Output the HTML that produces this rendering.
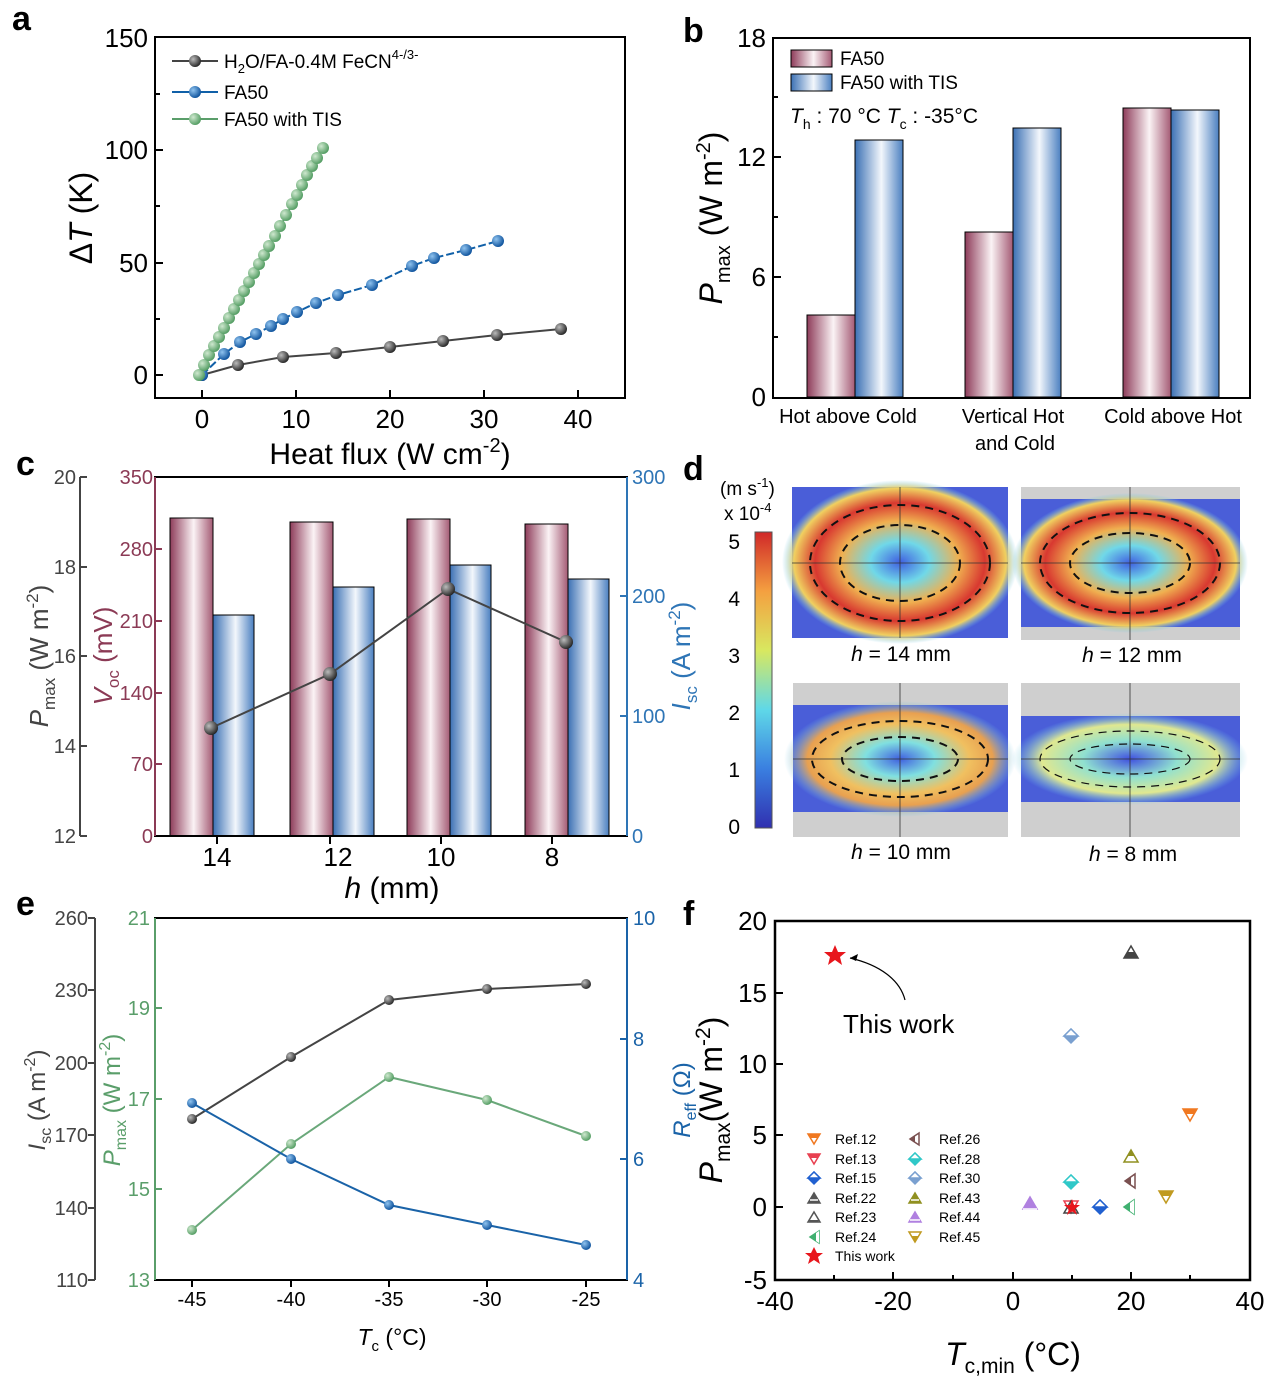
<!DOCTYPE html><html><head><meta charset="utf-8"><style>body{margin:0;background:#fff}svg{display:block;font-family:"Liberation Sans",Arial,sans-serif}</style></head><body>
<svg width="1281" height="1388" viewBox="0 0 1281 1388" xmlns="http://www.w3.org/2000/svg">
<defs>
<linearGradient id="pk" x1="0" x2="1"><stop offset="0" stop-color="#8e3c5a"/><stop offset=".55" stop-color="#fbf3f5"/><stop offset="1" stop-color="#a45a74"/></linearGradient>
<linearGradient id="bl" x1="0" x2="1"><stop offset="0" stop-color="#3b70b4"/><stop offset=".55" stop-color="#f3f7fc"/><stop offset="1" stop-color="#4a7fc0"/></linearGradient>
<radialGradient id="sb" cx=".35" cy=".35" r=".7"><stop offset="0" stop-color="#bbb"/><stop offset="1" stop-color="#222"/></radialGradient>
<radialGradient id="sbl" cx=".35" cy=".35" r=".7"><stop offset="0" stop-color="#8fc3ef"/><stop offset="1" stop-color="#0a4f9a"/></radialGradient>
<radialGradient id="sg" cx=".35" cy=".35" r=".7"><stop offset="0" stop-color="#cfe8cf"/><stop offset="1" stop-color="#4e9a5e"/></radialGradient>
<linearGradient id="cb" x1="0" y1="1" x2="0" y2="0"><stop offset="0" stop-color="#3030b0"/><stop offset=".2" stop-color="#3a7fe0"/><stop offset=".4" stop-color="#5fd8e8"/><stop offset=".6" stop-color="#d8e860"/><stop offset=".8" stop-color="#f4a040"/><stop offset="1" stop-color="#d02828"/></linearGradient>
<radialGradient id="hm" cx=".5" cy=".5" r=".5"><stop offset="0" stop-color="#4060e0"/><stop offset=".25" stop-color="#70d8e8"/><stop offset=".5" stop-color="#f0b050"/><stop offset=".72" stop-color="#d83830"/><stop offset=".9" stop-color="#f0d060"/><stop offset="1" stop-color="#70c8f0" stop-opacity="0"/></radialGradient>
<radialGradient id="hm2" cx=".5" cy=".5" r=".5"><stop offset="0" stop-color="#4060e0"/><stop offset=".3" stop-color="#80e0e0"/><stop offset=".6" stop-color="#f0c060"/><stop offset=".8" stop-color="#e8a050"/><stop offset="1" stop-color="#70c8f0" stop-opacity="0"/></radialGradient>
<radialGradient id="hm3" cx=".5" cy=".5" r=".5"><stop offset="0" stop-color="#4050e0"/><stop offset=".4" stop-color="#90e0d0"/><stop offset=".75" stop-color="#e0e890"/><stop offset="1" stop-color="#70c8f0" stop-opacity="0"/></radialGradient>
</defs>
<g font-size="26" fill="#000">
<!-- Panel labels -->
<text x="12" y="30" font-size="34" font-weight="bold">a</text>
<text x="683" y="42" font-size="34" font-weight="bold">b</text>
<text x="16" y="475" font-size="34" font-weight="bold">c</text>
<text x="683" y="480" font-size="34" font-weight="bold">d</text>
<text x="16" y="915" font-size="34" font-weight="bold">e</text>
<text x="683" y="925" font-size="34" font-weight="bold">f</text>

<!-- ===== Panel a ===== -->
<rect x="155" y="37" width="470" height="361" fill="none" stroke="#000" stroke-width="2"/>
<g stroke="#000" stroke-width="2">
<line x1="202" y1="398" x2="202" y2="390"/><line x1="296" y1="398" x2="296" y2="390"/><line x1="390" y1="398" x2="390" y2="390"/><line x1="484" y1="398" x2="484" y2="390"/><line x1="578" y1="398" x2="578" y2="390"/>
<line x1="155" y1="375" x2="163" y2="375"/><line x1="155" y1="263" x2="163" y2="263"/><line x1="155" y1="150" x2="163" y2="150"/>
<line x1="155" y1="319" x2="160" y2="319"/><line x1="155" y1="206" x2="160" y2="206"/><line x1="155" y1="94" x2="160" y2="94"/>
</g>
<g text-anchor="middle"><text x="202" y="428">0</text><text x="296" y="428">10</text><text x="390" y="428">20</text><text x="484" y="428">30</text><text x="578" y="428">40</text></g>
<g text-anchor="end"><text x="148" y="384">0</text><text x="148" y="272">50</text><text x="148" y="159">100</text><text x="148" y="47">150</text></g>
<text x="390" y="464" text-anchor="middle" font-size="30">Heat flux (W cm<tspan dy="-12" font-size="20">-2</tspan><tspan dy="12">)</tspan></text>
<text transform="translate(92,218) rotate(-90)" text-anchor="middle" font-size="32">Δ<tspan font-style="italic">T</tspan> (K)</text>
<polyline fill="none" stroke="#444" stroke-width="2" points="202,375 238,365 283,357 336,353 390,347 443,341 497,335 561,329"/>
<g fill="url(#sb)"><circle cx="202" cy="375" r="6"/><circle cx="238" cy="365" r="6"/><circle cx="283" cy="357" r="6"/><circle cx="336" cy="353" r="6"/><circle cx="390" cy="347" r="6"/><circle cx="443" cy="341" r="6"/><circle cx="497" cy="335" r="6"/><circle cx="561" cy="329" r="6"/></g>
<polyline fill="none" stroke="#1060a8" stroke-width="2" stroke-dasharray="8,3" points="202,375 224,354 240,342 256,334 271,326 283,319 297,312 316,303 338,295 372,285 412,266 434,258 466,250 498,241"/>
<g fill="url(#sbl)"><circle cx="202" cy="375" r="6"/><circle cx="224" cy="354" r="6"/><circle cx="240" cy="342" r="6"/><circle cx="256" cy="334" r="6"/><circle cx="271" cy="326" r="6"/><circle cx="283" cy="319" r="6"/><circle cx="297" cy="312" r="6"/><circle cx="316" cy="303" r="6"/><circle cx="338" cy="295" r="6"/><circle cx="372" cy="285" r="6"/><circle cx="412" cy="266" r="6"/><circle cx="434" cy="258" r="6"/><circle cx="466" cy="250" r="6"/><circle cx="498" cy="241" r="6"/></g>
<polyline fill="none" stroke="#5a9e6a" stroke-width="2" points="199,375 323,148"/>
<g fill="url(#sg)">
<circle cx="199" cy="375" r="6"/><circle cx="204" cy="365" r="6"/><circle cx="209" cy="355" r="6"/><circle cx="214" cy="346" r="6"/><circle cx="219" cy="337" r="6"/><circle cx="224" cy="328" r="6"/><circle cx="229" cy="318" r="6"/><circle cx="234" cy="309" r="6"/><circle cx="239" cy="300" r="6"/><circle cx="244" cy="291" r="6"/><circle cx="249" cy="282" r="6"/><circle cx="254" cy="273" r="6"/><circle cx="259" cy="264" r="6"/><circle cx="264" cy="255" r="6"/><circle cx="269" cy="246" r="6"/><circle cx="275" cy="236" r="6"/><circle cx="280" cy="226" r="6"/><circle cx="286" cy="215" r="6"/><circle cx="292" cy="204" r="6"/><circle cx="297" cy="195" r="6"/><circle cx="302" cy="185" r="6"/><circle cx="307" cy="175" r="6"/><circle cx="312" cy="166" r="6"/><circle cx="317" cy="158" r="6"/><circle cx="323" cy="148" r="6"/></g>
<g font-size="19">
<line x1="172" y1="61" x2="218" y2="61" stroke="#444" stroke-width="2"/><circle cx="195" cy="61" r="6" fill="url(#sb)"/>
<text x="224" y="68">H<tspan dy="5" font-size="13">2</tspan><tspan dy="-5">O/FA-0.4M FeCN</tspan><tspan dy="-9" font-size="13">4-/3-</tspan></text>
<line x1="172" y1="92" x2="218" y2="92" stroke="#1060a8" stroke-width="2"/><circle cx="195" cy="92" r="6" fill="url(#sbl)"/><text x="224" y="99">FA50</text>
<line x1="172" y1="119" x2="218" y2="119" stroke="#5a9e6a" stroke-width="2"/><circle cx="195" cy="119" r="6" fill="url(#sg)"/><text x="224" y="126">FA50 with TIS</text>
</g>

<!-- ===== Panel b ===== -->
<g stroke="#000" stroke-width="1">
<rect x="807" y="315" width="48" height="82" fill="url(#pk)"/><rect x="855" y="140" width="48" height="257" fill="url(#bl)"/>
<rect x="965" y="232" width="48" height="165" fill="url(#pk)"/><rect x="1013" y="128" width="48" height="269" fill="url(#bl)"/>
<rect x="1123" y="108" width="48" height="289" fill="url(#pk)"/><rect x="1171" y="110" width="48" height="287" fill="url(#bl)"/>
</g>
<rect x="773" y="38" width="477" height="360" fill="none" stroke="#000" stroke-width="2"/>
<g stroke="#000" stroke-width="2"><line x1="773" y1="277" x2="781" y2="277"/><line x1="773" y1="157" x2="781" y2="157"/><line x1="773" y1="217" x2="778" y2="217"/><line x1="773" y1="337" x2="778" y2="337"/><line x1="773" y1="97" x2="778" y2="97"/></g>
<g text-anchor="end"><text x="766" y="406">0</text><text x="766" y="286">6</text><text x="766" y="166">12</text><text x="766" y="47">18</text></g>
<text transform="translate(722,218) rotate(-90)" text-anchor="middle" font-size="32"><tspan font-style="italic">P</tspan><tspan dy="8" font-size="20">max</tspan><tspan dy="-8"> (W m</tspan><tspan dy="-12" font-size="20">-2</tspan><tspan dy="12">)</tspan></text>
<g text-anchor="middle" font-size="20"><text x="848" y="423">Hot above Cold</text><text x="1013" y="423">Vertical Hot</text><text x="1015" y="450">and Cold</text><text x="1173" y="423">Cold above Hot</text></g>
<g font-size="19"><rect x="791" y="50" width="41" height="17" fill="url(#pk)" stroke="#000"/><text x="840" y="65">FA50</text>
<rect x="791" y="74" width="41" height="17" fill="url(#bl)" stroke="#000"/><text x="840" y="89">FA50 with TIS</text>
<text x="790" y="123" font-size="21"><tspan font-style="italic">T</tspan><tspan dy="6" font-size="14">h</tspan><tspan dy="-6"> : 70 °C  </tspan><tspan font-style="italic">T</tspan><tspan dy="6" font-size="14">c</tspan><tspan dy="-6"> : -35°C</tspan></text></g>

<!-- ===== Panel c ===== -->
<g stroke="#000" stroke-width="1">
<rect x="170" y="518" width="43" height="318" fill="url(#pk)"/><rect x="213" y="615" width="41" height="221" fill="url(#bl)"/>
<rect x="290" y="522" width="43" height="314" fill="url(#pk)"/><rect x="333" y="587" width="41" height="249" fill="url(#bl)"/>
<rect x="407" y="519" width="43" height="317" fill="url(#pk)"/><rect x="450" y="565" width="41" height="271" fill="url(#bl)"/>
<rect x="525" y="524" width="43" height="312" fill="url(#pk)"/><rect x="568" y="579" width="41" height="257" fill="url(#bl)"/>
</g>
<rect x="155" y="477" width="472" height="359" fill="none" stroke="#000" stroke-width="2"/>
<line x1="155" y1="477" x2="155" y2="836" stroke="#8b3a55" stroke-width="2"/>
<line x1="627" y1="477" x2="627" y2="836" stroke="#2e75b6" stroke-width="2"/>
<line x1="80" y1="477" x2="80" y2="836" stroke="#444" stroke-width="2"/>
<polyline fill="none" stroke="#444" stroke-width="2" points="211,728 330,674 448,589 566,642"/>
<g fill="url(#sb)"><circle cx="211" cy="728" r="7"/><circle cx="330" cy="674" r="7"/><circle cx="448" cy="589" r="7"/><circle cx="566" cy="642" r="7"/></g>
<g stroke="#444" stroke-width="2"><line x1="80" y1="477" x2="87" y2="477"/><line x1="80" y1="567" x2="87" y2="567"/><line x1="80" y1="656" x2="87" y2="656"/><line x1="80" y1="746" x2="87" y2="746"/><line x1="80" y1="836" x2="87" y2="836"/></g>
<g fill="#444" text-anchor="end" font-size="20"><text x="76" y="484">20</text><text x="76" y="574">18</text><text x="76" y="663">16</text><text x="76" y="753">14</text><text x="76" y="843">12</text></g>
<g stroke="#8b3a55" stroke-width="2"><line x1="155" y1="549" x2="162" y2="549"/><line x1="155" y1="621" x2="162" y2="621"/><line x1="155" y1="693" x2="162" y2="693"/><line x1="155" y1="764" x2="162" y2="764"/></g>
<g fill="#8b3a55" text-anchor="end" font-size="20"><text x="153" y="484">350</text><text x="153" y="556">280</text><text x="153" y="628">210</text><text x="153" y="700">140</text><text x="153" y="771">70</text><text x="153" y="843">0</text></g>
<g stroke="#2e75b6" stroke-width="2"><line x1="627" y1="596" x2="620" y2="596"/><line x1="627" y1="716" x2="620" y2="716"/></g>
<g fill="#2e75b6" font-size="20"><text x="632" y="484">300</text><text x="632" y="603">200</text><text x="632" y="723">100</text><text x="632" y="843">0</text></g>
<g stroke="#000" stroke-width="2"><line x1="217" y1="836" x2="217" y2="844"/><line x1="330" y1="836" x2="330" y2="844"/><line x1="441" y1="836" x2="441" y2="844"/><line x1="552" y1="836" x2="552" y2="844"/></g>
<g text-anchor="middle"><text x="217" y="866">14</text><text x="338" y="866">12</text><text x="441" y="866">10</text><text x="552" y="866">8</text></g>
<text x="392" y="898" text-anchor="middle" font-size="30"><tspan font-style="italic">h</tspan> (mm)</text>
<text transform="translate(48,656) rotate(-90)" text-anchor="middle" font-size="26" fill="#444"><tspan font-style="italic">P</tspan><tspan dy="7" font-size="17">max</tspan><tspan dy="-7"> (W m</tspan><tspan dy="-10" font-size="17">-2</tspan><tspan dy="10">)</tspan></text>
<text transform="translate(112,656) rotate(-90)" text-anchor="middle" font-size="26" fill="#8b3a55"><tspan font-style="italic">V</tspan><tspan dy="7" font-size="17">oc</tspan><tspan dy="-7"> (mV)</tspan></text>
<text transform="translate(690,656) rotate(-90)" text-anchor="middle" font-size="26" fill="#2e75b6"><tspan font-style="italic">I</tspan><tspan dy="7" font-size="17">sc</tspan><tspan dy="-7"> (A m</tspan><tspan dy="-10" font-size="17">-2</tspan><tspan dy="10">)</tspan></text>

<!-- ===== Panel d ===== -->
<text x="720" y="495" font-size="19">(m s<tspan dy="-8" font-size="13">-1</tspan><tspan dy="8">)</tspan></text>
<text x="724" y="520" font-size="19">x 10<tspan dy="-8" font-size="13">-4</tspan></text>
<rect x="755" y="532" width="17" height="296" fill="url(#cb)" stroke="#555"/>
<g font-size="21" text-anchor="end"><text x="740" y="549">5</text><text x="740" y="606">4</text><text x="740" y="663">3</text><text x="740" y="720">2</text><text x="740" y="777">1</text><text x="740" y="834">0</text></g>
<!-- tl -->
<rect x="792" y="487" width="216" height="151" fill="#4a5ed8"/>
<ellipse cx="900" cy="562" rx="118" ry="82" fill="url(#hm)"/>
<!-- tr -->
<rect x="1021" y="487" width="219" height="153" fill="#cfcfcf"/><rect x="1021" y="499" width="219" height="128" fill="#4a5ed8"/>
<ellipse cx="1130" cy="563" rx="118" ry="70" fill="url(#hm)"/>
<!-- bl -->
<rect x="793" y="683" width="215" height="154" fill="#cfcfcf"/><rect x="793" y="705" width="215" height="107" fill="#4a5ed8"/>
<ellipse cx="900" cy="759" rx="116" ry="58" fill="url(#hm2)"/>
<!-- br -->
<rect x="1021" y="683" width="219" height="154" fill="#cfcfcf"/><rect x="1021" y="716" width="219" height="86" fill="#4a5ed8"/>
<ellipse cx="1130" cy="759" rx="118" ry="46" fill="url(#hm3)"/>
<g stroke="#333" stroke-width="0.8"><line x1="900" y1="487" x2="900" y2="638"/><line x1="792" y1="563" x2="1008" y2="563"/><line x1="1130" y1="487" x2="1130" y2="640"/><line x1="1021" y1="563" x2="1240" y2="563"/><line x1="900" y1="683" x2="900" y2="837"/><line x1="793" y1="759" x2="1008" y2="759"/><line x1="1130" y1="683" x2="1130" y2="837"/><line x1="1021" y1="759" x2="1240" y2="759"/></g>
<g fill="none" stroke="#111" stroke-width="2" stroke-dasharray="8,6">
<ellipse cx="900" cy="563" rx="90" ry="58"/><ellipse cx="900" cy="563" rx="60" ry="38"/>
<ellipse cx="1130" cy="563" rx="90" ry="50"/><ellipse cx="1130" cy="563" rx="60" ry="30"/>
<ellipse cx="900" cy="759" rx="88" ry="38"/><ellipse cx="900" cy="759" rx="58" ry="22"/>
<ellipse cx="1130" cy="759" rx="90" ry="28" stroke-width="1.2"/><ellipse cx="1130" cy="759" rx="60" ry="15" stroke-width="1.2"/>
</g>
<g font-size="21" text-anchor="middle"><text x="901" y="661"><tspan font-style="italic">h</tspan> = 14 mm</text><text x="1132" y="662"><tspan font-style="italic">h</tspan> = 12 mm</text><text x="901" y="859"><tspan font-style="italic">h</tspan> = 10 mm</text><text x="1133" y="861"><tspan font-style="italic">h</tspan> = 8 mm</text></g>

<!-- ===== Panel e ===== -->
<rect x="155" y="918" width="472" height="362" fill="none" stroke="#000" stroke-width="2"/>
<line x1="155" y1="918" x2="155" y2="1280" stroke="#5a9e6a" stroke-width="2"/>
<line x1="627" y1="918" x2="627" y2="1280" stroke="#1a63a8" stroke-width="2"/>
<line x1="95" y1="918" x2="95" y2="1280" stroke="#444" stroke-width="2"/>
<g stroke="#444" stroke-width="2"><line x1="95" y1="918" x2="88" y2="918"/><line x1="95" y1="990" x2="88" y2="990"/><line x1="95" y1="1063" x2="88" y2="1063"/><line x1="95" y1="1135" x2="88" y2="1135"/><line x1="95" y1="1208" x2="88" y2="1208"/><line x1="95" y1="1280" x2="88" y2="1280"/></g>
<g fill="#444" text-anchor="end" font-size="20"><text x="88" y="925">260</text><text x="88" y="997">230</text><text x="88" y="1070">200</text><text x="88" y="1142">170</text><text x="88" y="1215">140</text><text x="88" y="1287">110</text></g>
<g stroke="#5a9e6a" stroke-width="2"><line x1="155" y1="1008" x2="162" y2="1008"/><line x1="155" y1="1099" x2="162" y2="1099"/><line x1="155" y1="1189" x2="162" y2="1189"/></g>
<g fill="#5a9e6a" text-anchor="end" font-size="20"><text x="150" y="925">21</text><text x="150" y="1015">19</text><text x="150" y="1106">17</text><text x="150" y="1196">15</text><text x="150" y="1287">13</text></g>
<g stroke="#1a63a8" stroke-width="2"><line x1="627" y1="1039" x2="620" y2="1039"/><line x1="627" y1="1159" x2="620" y2="1159"/></g>
<g fill="#1a63a8" font-size="20"><text x="633" y="925">10</text><text x="633" y="1046">8</text><text x="633" y="1166">6</text><text x="633" y="1287">4</text></g>
<g stroke="#000" stroke-width="2"><line x1="192" y1="1280" x2="192" y2="1287"/><line x1="291" y1="1280" x2="291" y2="1287"/><line x1="389" y1="1280" x2="389" y2="1287"/><line x1="487" y1="1280" x2="487" y2="1287"/><line x1="586" y1="1280" x2="586" y2="1287"/></g>
<g text-anchor="middle" font-size="20"><text x="192" y="1306">-45</text><text x="291" y="1306">-40</text><text x="389" y="1306">-35</text><text x="487" y="1306">-30</text><text x="586" y="1306">-25</text></g>
<text x="392" y="1345" text-anchor="middle" font-size="23"><tspan font-style="italic">T</tspan><tspan dy="6" font-size="15">c</tspan><tspan dy="-6"> (°C)</tspan></text>
<text transform="translate(45,1100) rotate(-90)" text-anchor="middle" font-size="24" fill="#444"><tspan font-style="italic">I</tspan><tspan dy="6" font-size="16">sc</tspan><tspan dy="-6"> (A m</tspan><tspan dy="-10" font-size="16">-2</tspan><tspan dy="10">)</tspan></text>
<text transform="translate(120,1100) rotate(-90)" text-anchor="middle" font-size="24" fill="#5a9e6a"><tspan font-style="italic">P</tspan><tspan dy="6" font-size="16">max</tspan><tspan dy="-6"> (W m</tspan><tspan dy="-10" font-size="16">-2</tspan><tspan dy="10">)</tspan></text>
<text transform="translate(690,1100) rotate(-90)" text-anchor="middle" font-size="24" fill="#1a63a8"><tspan font-style="italic">R</tspan><tspan dy="6" font-size="16">eff</tspan><tspan dy="-6"> (Ω)</tspan></text>
<polyline fill="none" stroke="#444" stroke-width="2" points="192,1119 291,1057 389,1000 487,989 586,984"/>
<polyline fill="none" stroke="#6aa87a" stroke-width="2" points="192,1230 291,1144 389,1077 487,1100 586,1136"/>
<polyline fill="none" stroke="#1a63a8" stroke-width="2" points="192,1103 291,1159 389,1205 487,1225 586,1245"/>
<g fill="url(#sb)"><circle cx="192" cy="1119" r="5"/><circle cx="291" cy="1057" r="5"/><circle cx="389" cy="1000" r="5"/><circle cx="487" cy="989" r="5"/><circle cx="586" cy="984" r="5"/></g>
<g fill="url(#sg)"><circle cx="192" cy="1230" r="5"/><circle cx="291" cy="1144" r="5"/><circle cx="389" cy="1077" r="5"/><circle cx="487" cy="1100" r="5"/><circle cx="586" cy="1136" r="5"/></g>
<g fill="url(#sbl)"><circle cx="192" cy="1103" r="5"/><circle cx="291" cy="1159" r="5"/><circle cx="389" cy="1205" r="5"/><circle cx="487" cy="1225" r="5"/><circle cx="586" cy="1245" r="5"/></g>

<!-- ===== Panel f ===== -->
<rect x="775" y="921" width="475" height="359" fill="none" stroke="#000" stroke-width="2.5"/>
<g stroke="#000" stroke-width="2"><line x1="893" y1="1280" x2="893" y2="1272"/><line x1="1013" y1="1280" x2="1013" y2="1272"/><line x1="1131" y1="1280" x2="1131" y2="1272"/><line x1="834" y1="1280" x2="834" y2="1275"/><line x1="953" y1="1280" x2="953" y2="1275"/><line x1="1072" y1="1280" x2="1072" y2="1275"/><line x1="1190" y1="1280" x2="1190" y2="1275"/>
<line x1="775" y1="993" x2="783" y2="993"/><line x1="775" y1="1064" x2="783" y2="1064"/><line x1="775" y1="1135" x2="783" y2="1135"/><line x1="775" y1="1207" x2="783" y2="1207"/></g>
<g text-anchor="middle"><text x="775" y="1310">-40</text><text x="893" y="1310">-20</text><text x="1013" y="1310">0</text><text x="1131" y="1310">20</text><text x="1250" y="1310">40</text></g>
<g text-anchor="end"><text x="767" y="930">20</text><text x="767" y="1002">15</text><text x="767" y="1073">10</text><text x="767" y="1144">5</text><text x="767" y="1216">0</text><text x="767" y="1289">-5</text></g>
<text x="1013" y="1365" text-anchor="middle" font-size="32"><tspan font-style="italic">T</tspan><tspan dy="8" font-size="21">c,min</tspan><tspan dy="-8"> (°C)</tspan></text>
<text transform="translate(722,1100) rotate(-90)" text-anchor="middle" font-size="32"><tspan font-style="italic">P</tspan><tspan dy="8" font-size="21">max</tspan><tspan dy="-8">(W m</tspan><tspan dy="-12" font-size="21">-2</tspan><tspan dy="12">)</tspan></text>
<text x="843" y="1033" font-size="26">This work</text>
<path d="M905,1000 C900,980 880,965 850,958" fill="none" stroke="#000" stroke-width="1.2"/><path d="M850,958 l8,-4 l-2,7 z" fill="#000"/>
<polygon points="835,945 838,952 846,952 840,957 842,965 835,960 828,965 830,957 824,952 832,952" fill="#e8161c"/>
<g stroke-width="1.5">
<path d="M1124,958 l7,-12 l7,12 z" fill="none" stroke="#444"/><path d="M1127,952 l8,0 l3,6 h-14 z" fill="#444"/>
<path d="M1064,1036 l7,-7 l7,7 l-7,7 z" fill="#7aa0d0" stroke="#7aa0d0"/><path d="M1064,1036 l7,-7 l7,7 z" fill="#fff" stroke="#7aa0d0"/>
<path d="M1183,1109 h14 l-7,12 z" fill="none" stroke="#f07820"/><path d="M1183,1109 h14 l-3,5 h-8 z" fill="#f07820"/>
<path d="M1124,1162 l7,-12 l7,12 z" fill="#fff" stroke="#909020"/><path d="M1128,1156 l3,-6 l3,6 z" fill="#909020"/><path d="M1127,1156 h8 l-4,-6 z" fill="#909020"/>
<path d="M1135,1174 v14 l-10,-7 z" fill="#fff" stroke="#7a5050"/><path d="M1131,1176 v10 l-6,-5 z" fill="#7a5050"/>
<path d="M1159,1191 h14 l-7,12 z" fill="none" stroke="#c09a20"/><path d="M1159,1191 h14 l-3,5 h-8 z" fill="#c09a20"/>
<path d="M1064,1182 l7,-7 l7,7 l-7,7 z" fill="#30c8c8" stroke="#30c8c8"/><path d="M1064,1182 l7,-7 l7,7 z" fill="#fff" stroke="#30c8c8"/>
<path d="M1023,1209 l7,-12 l7,12 z" fill="#b080e0" stroke="#b080e0"/><path d="M1023,1209 h14" stroke="#fff"/>
<path d="M1064,1201 h14 l-7,12 z" fill="none" stroke="#e84050"/><path d="M1064,1213 l7,-12 l7,12 z" fill="none" stroke="#444"/>
<polygon points="1072,1199 1074,1205 1080,1205 1075,1209 1077,1215 1072,1211 1067,1215 1069,1209 1064,1205 1070,1205" fill="#e8161c"/>
<path d="M1093,1207 l7,-7 l7,7 l-7,7 z" fill="#2060d0" stroke="#2060d0"/><path d="M1093,1207 l7,-7 l7,7 z" fill="#fff" stroke="#2060d0"/>
<path d="M1134,1200 v14 l-10,-7 z" fill="#40b070" stroke="#40b070"/><path d="M1134,1200 v14 l-4,-3 v-8 z" fill="#fff"/>
</g>
<g font-size="14">
<text x="835" y="1144">Ref.12</text><text x="835" y="1164">Ref.13</text><text x="835" y="1183">Ref.15</text><text x="835" y="1203">Ref.22</text><text x="835" y="1222">Ref.23</text><text x="835" y="1242">Ref.24</text><text x="835" y="1261">This work</text>
<text x="939" y="1144">Ref.26</text><text x="939" y="1164">Ref.28</text><text x="939" y="1183">Ref.30</text><text x="939" y="1203">Ref.43</text><text x="939" y="1222">Ref.44</text><text x="939" y="1242">Ref.45</text>
</g>
<g stroke-width="1.5">
<path d="M808,1134 h12 l-6,10 z" fill="none" stroke="#f07820"/><path d="M808,1134 h12 l-2,4 h-8 z" fill="#f07820"/>
<path d="M808,1154 h12 l-6,10 z" fill="none" stroke="#e84050"/><path d="M808,1154 h12 l-2,4 h-8 z" fill="#e84050"/>
<path d="M808,1178 l6,-6 l6,6 l-6,6 z" fill="#2060d0" stroke="#2060d0"/><path d="M808,1178 l6,-6 l6,6 z" fill="#fff" stroke="#2060d0"/>
<path d="M808,1203 l6,-10 l6,10 z" fill="#555" stroke="#555"/><path d="M810,1200 h8" stroke="#fff"/>
<path d="M808,1222 l6,-10 l6,10 z" fill="none" stroke="#555"/><path d="M809,1220 h10 l-1,2 h-8 z" fill="#555"/>
<path d="M819,1231 v12 l-9,-6 z" fill="#40b070" stroke="#40b070"/><path d="M819,1231 v12 l-3,-2 v-8 z" fill="#fff"/>
<polygon points="814,1247 817,1253 823,1253 818,1257 820,1264 814,1260 808,1264 810,1257 805,1253 811,1253" fill="#e8161c"/>
<path d="M919,1133 v12 l-9,-6 z" fill="#fff" stroke="#7a5050"/><path d="M915,1135 v8 l-5,-4 z" fill="#7a5050"/>
<path d="M909,1159 l6,-6 l6,6 l-6,6 z" fill="#30c8c8" stroke="#30c8c8"/><path d="M909,1159 l6,-6 l6,6 z" fill="#fff" stroke="#30c8c8"/>
<path d="M909,1178 l6,-6 l6,6 l-6,6 z" fill="#7aa0d0" stroke="#7aa0d0"/><path d="M909,1178 l6,-6 l6,6 z" fill="#fff" stroke="#7aa0d0"/>
<path d="M909,1203 l6,-10 l6,10 z" fill="#909020" stroke="#909020"/><path d="M911,1200 h8" stroke="#fff"/>
<path d="M909,1222 l6,-10 l6,10 z" fill="#b080e0" stroke="#b080e0"/><path d="M910,1220 h10" stroke="#fff"/>
<path d="M909,1232 h12 l-6,10 z" fill="#fff" stroke="#c09a20"/><path d="M912,1236 h6 l-3,6 z" fill="#c09a20"/>
</g>
</g>
</svg>
</body></html>
